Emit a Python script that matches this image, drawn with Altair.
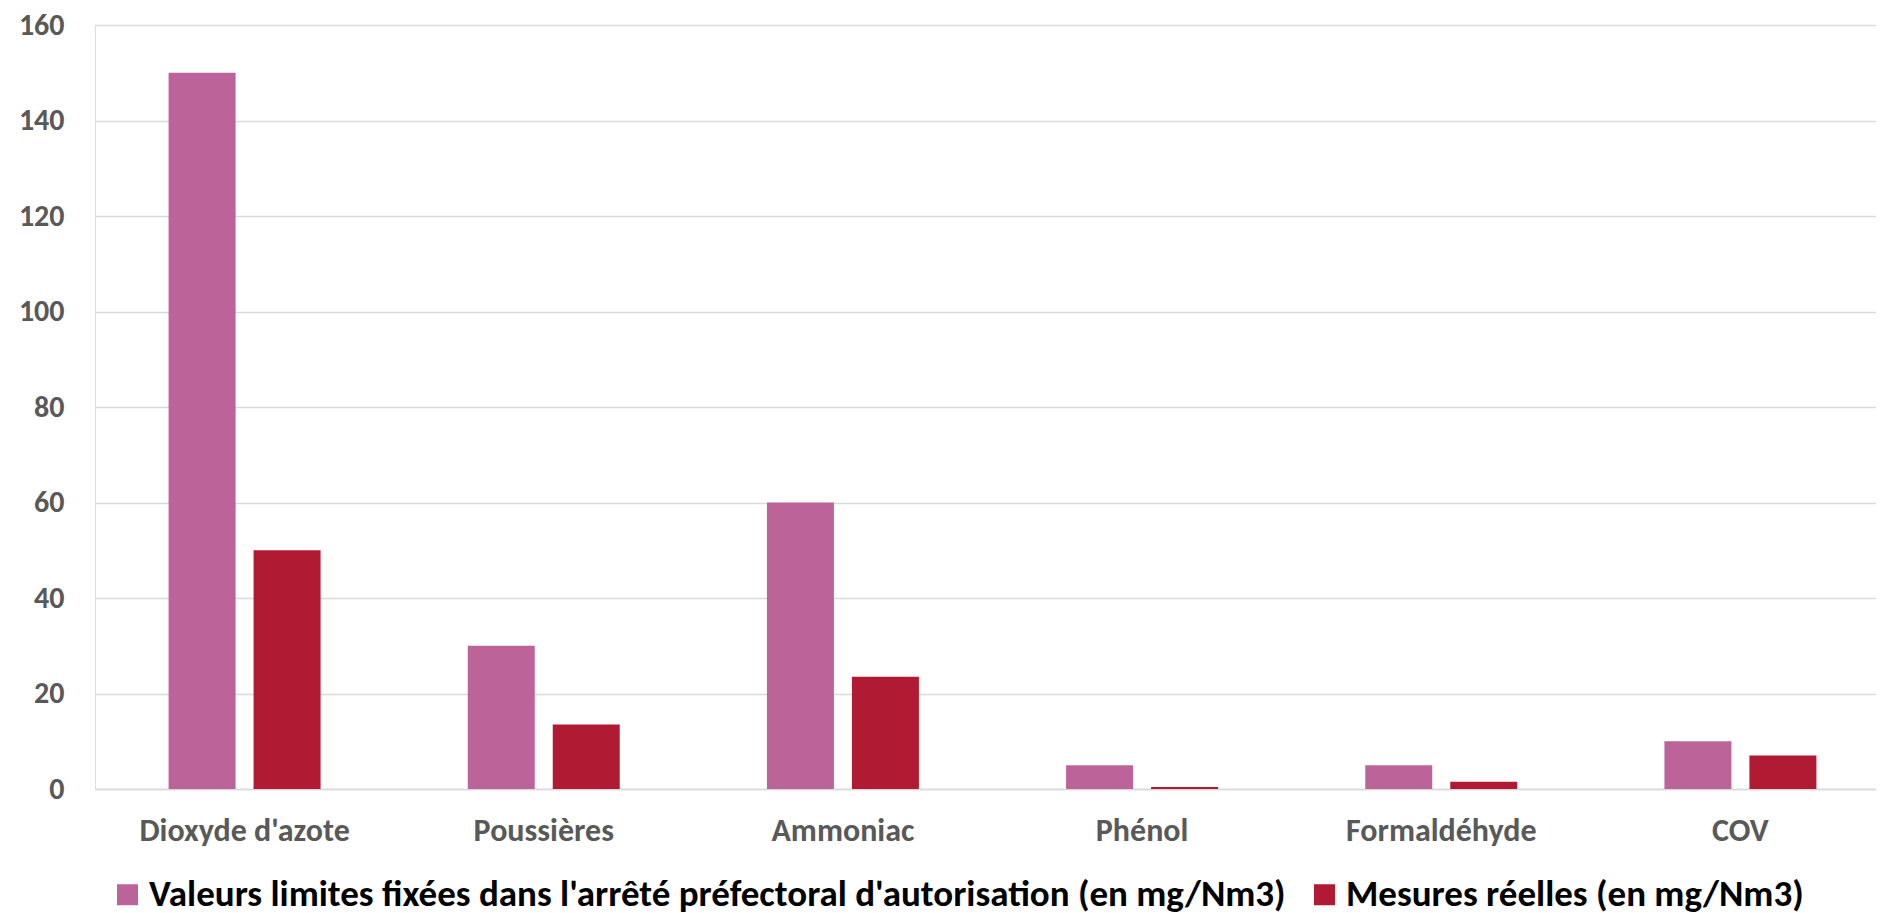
import altair as alt
import pandas as pd

categories = ["Dioxyde d'azote", "Poussières", "Ammoniac", "Phénol", "Formaldéhyde", "COV"]
series = [
    "Valeurs limites fixées dans l'arrêté préfectoral d'autorisation (en mg/Nm3)",
    "Mesures réelles (en mg/Nm3)",
]
limites = [150, 30, 60, 5, 5, 10]
mesures = [50, 13.5, 23.5, 0.4, 1.5, 7]
colors = ["#BC6499", "#B01A32"]
y_ticks = [0, 20, 40, 60, 80, 100, 120, 140, 160]

rows = []
for c, a, b in zip(categories, limites, mesures):
    rows.append({"cat": c, "serie": series[0], "val": a})
    rows.append({"cat": c, "serie": series[1], "val": b})
df = pd.DataFrame(rows)

FONT = "Carlito, 'Liberation Sans Narrow', Lato, sans-serif"

chart = alt.Chart(df).mark_bar().encode(
    x=alt.X("cat:N", sort=categories, title=None,
            scale=alt.Scale(range=[0, 1795], paddingInner=0.492, paddingOuter=0.246),
            axis=alt.Axis(labelAngle=0, labelFont=FONT, labelFontSize=32, labelFontWeight="bold",
                          labelColor="#595959", labelPadding=26, labelLimit=1000, ticks=False,
                          domain=True, domainColor="#D9D9D9", domainWidth=1.5, grid=False)),
    xOffset=alt.XOffset("serie:N", sort=series,
                        scale=alt.Scale(paddingInner=0.2118, paddingOuter=0)),
    y=alt.Y("val:Q", title=None,
            scale=alt.Scale(domain=[0, 160], nice=False),
            axis=alt.Axis(values=y_ticks, labelFont=FONT, labelFontSize=30, labelFontWeight="bold",
                          labelColor="#595959", labelPadding=31, ticks=False, domain=False,
                          grid=True, gridColor="#D9D9D9", gridWidth=1.5)),
    color=alt.Color("serie:N", sort=series,
                    scale=alt.Scale(domain=series, range=colors),
                    legend=alt.Legend(title=None, orient="none", legendX=14, legendY=851,
                                      direction="horizontal", columns=2,
                                      symbolType="square", symbolSize=441, symbolStrokeWidth=0,
                                      labelFont=FONT, labelFontSize=37, labelFontWeight="bold",
                                      labelColor="#000000", labelLimit=3000, labelOffset=3,
                                      columnPadding=20)),
).properties(
    width=1781,
    height=764,
    autosize=alt.AutoSizeParams(type="none"),
    padding={"left": 87, "top": 17, "right": 0, "bottom": 124},
).configure_view(stroke=None).configure(background="white")

chart.save("out.html", embed_options={"renderer": "svg", "actions": False})
